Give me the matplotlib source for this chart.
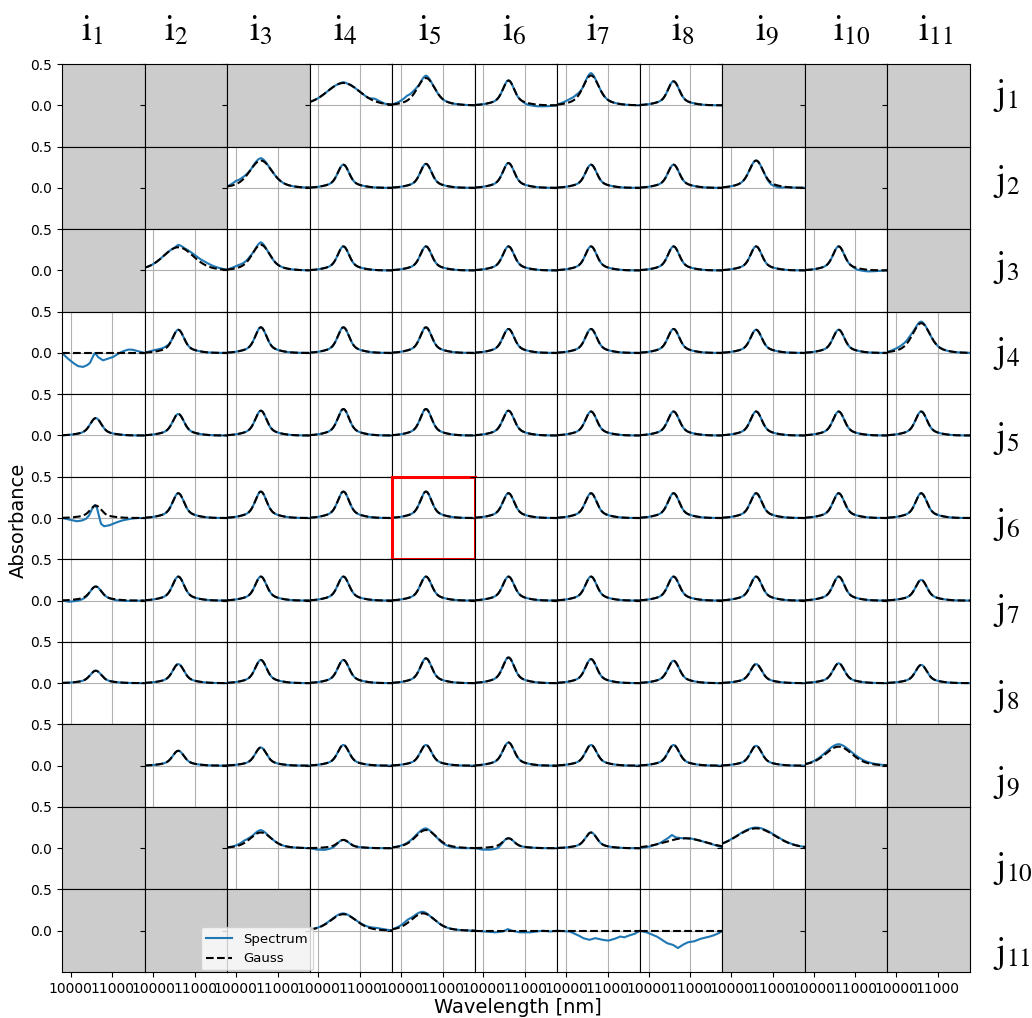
import numpy as np
import matplotlib.pyplot as plt

plt.rcParams['mathtext.fontset'] = 'stix'

nan = np.nan
wl_min, wl_max = 9790, 11770

# Gauss amplitude per pixel: rows j1..j11, columns i1..i11 (nan = no pixel)
amp = [
    [nan, nan, nan, .27, .33, .30, .36, .29, nan, nan, nan],
    [nan, nan, .33, .28, .29, .30, .28, .28, .33, nan, nan],
    [nan, .28, .31, .29, .29, .29, .29, .29, .29, .29, nan],
    [0.0, .28, .31, .31, .31, .29, .29, .29, .28, .28, .36],
    [.21, .26, .30, .32, .32, .30, .29, .29, .29, .29, .29],
    [.15, .30, .32, .32, .32, .30, .30, .30, .30, .30, .30],
    [.17, .29, .29, .29, .29, .29, .29, .29, .29, .29, .25],
    [.15, .23, .28, .28, .30, .31, .29, .27, .23, .24, .22],
    [nan, .18, .22, .25, .25, .28, .25, .25, .24, .23, nan],
    [nan, nan, .19, .10, .22, .12, .19, .12, .24, nan, nan],
    [nan, nan, nan, .20, .21, 0.0, 0.0, 0.0, nan, nan, nan],
]
center_default = 10600
sigma_default = 125
center = {(9, 7): 10870, (10, 4): 10530}
sigma = {(0, 3): 360, (0, 4): 190, (0, 6): 170, (1, 2): 240, (1, 8): 150,
         (2, 1): 330, (2, 2): 190, (3, 10): 190, (8, 9): 290, (9, 2): 230,
         (9, 4): 230, (9, 7): 450, (9, 8): 430, (10, 3): 280, (10, 4): 260}

# Spectrum minus Gauss (small deviations), knots in nm
resid = {
    (0, 3): ([9790, 10500, 10600, 10700, 11200, 11350, 11450, 11600, 11770], [0, 0, .01, 0, 0, .03, .02, 0, 0]),
    (0, 4): ([9790, 9950, 10100, 10150, 10300, 10450, 10600, 10750, 11770], [0, .02, .05, .06, .04, 0, .03, 0, 0]),
    (0, 5): ([9790, 10900, 11050, 11300, 11600, 11770], [0, 0, -.02, -.02, -.01, 0]),
    (0, 6): ([9790, 9950, 10100, 10250, 10400, 10600, 10750, 11770], [0, .02, .04, .04, 0, .03, 0, 0]),
    (1, 2): ([9790, 9900, 10000, 10150, 10350, 10600, 10800, 11770], [0, .02, .04, .03, 0, .03, 0, 0]),
    (1, 8): ([9790, 10800, 10950, 11150, 11350, 11770], [0, 0, -.02, -.02, 0, 0]),
    (2, 1): ([9790, 10500, 10600, 10750, 11000, 11250, 11500, 11770], [0, 0, .03, .01, .03, .04, .02, 0]),
    (2, 2): ([9790, 9950, 10100, 10300, 10450, 10600, 10750, 11770], [0, .02, .03, .02, 0, .03, 0, 0]),
    (2, 9): ([9790, 10900, 11050, 11300, 11500, 11770], [0, 0, -.02, -.02, -.01, 0]),
    (3, 1): ([9790, 10000, 10300, 10450, 11770], [0, .02, .02, 0, 0]),
    (3, 10): ([9790, 9950, 10150, 10300, 10450, 10600, 10750, 11770], [0, .02, .04, .04, .01, .02, 0, 0]),
    (6, 0): ([9790, 9950, 10150, 10350, 10500, 10900, 11100, 11770], [0, -.02, -.02, -.01, 0, 0, -.01, 0]),
    (8, 9): ([9790, 10600, 10800, 11100, 11400, 11770], [0, .03, .02, .02, .01, 0]),
    (9, 2): ([9790, 10000, 10200, 10400, 10600, 10800, 11770], [0, .01, .03, .01, .03, 0, 0]),
    (9, 3): ([9790, 9950, 10150, 10350, 10500, 11770], [0, -.02, -.03, -.02, 0, 0]),
    (9, 4): ([9790, 10600, 10750, 11000, 11300, 11770], [0, .02, 0, -.01, -.01, 0]),
    (9, 5): ([9790, 9950, 10150, 10350, 10500, 11770], [0, -.02, -.03, -.03, 0, 0]),
    (9, 8): ([9790, 10600, 11770], [0, .01, 0]),
    (10, 3): ([9790, 10600, 10800, 11200, 11400, 11600, 11770], [0, .01, 0, .01, .02, .01, 0]),
    (10, 4): ([9790, 10000, 10150, 10300, 10530, 10700, 11770], [0, .02, .04, .02, .02, 0, 0]),
}

# Measured spectrum where it departs strongly from the fit, knots in nm
spec = {
    (3, 0): ([9790, 9910, 10054, 10174, 10294, 10390, 10462, 10534, 10582, 10654, 10774, 10894,
              11014, 11134, 11254, 11374, 11470, 11614, 11770],
             [0, -.06, -.12, -.16, -.17, -.15, -.12, -.04, 0, -.05, -.09, -.07,
              -.05, -.01, .02, .04, .04, .02, 0]),
    (5, 0): ([9790, 9980, 10150, 10270, 10366, 10438, 10510, 10582, 10630, 10678, 10726, 10798,
              10918, 11062, 11230, 11422, 11590, 11770],
             [0, -.02, -.04, -.03, -.01, .03, .11, .16, .12, .02, -.07, -.10,
              -.09, -.06, -.03, -.01, 0, 0]),
    (9, 7): ([9790, 10030, 10270, 10462, 10558, 10654, 10798, 10990, 11182, 11374, 11566, 11770],
             [0, .02, .06, .12, .16, .13, .12, .12, .10, .07, .04, .01]),
    (10, 5): ([9790, 10030, 10270, 10462, 10582, 10678, 10870, 11110, 11278, 11422, 11590, 11770],
              [0, -.01, -.02, -.01, .02, 0, -.02, -.02, -.01, 0, -.01, 0]),
    (10, 6): ([9790, 10090, 10270, 10414, 10558, 10702, 10870, 11014, 11158, 11302, 11398, 11494, 11638, 11770],
              [0, -.01, -.05, -.09, -.11, -.09, -.11, -.12, -.10, -.07, -.08, -.06, -.04, 0]),
    (10, 7): ([9790, 9958, 10198, 10438, 10582, 10702, 10822, 10942, 11086, 11230, 11398, 11542, 11686, 11770],
              [0, -.02, -.07, -.15, -.17, -.21, -.17, -.14, -.13, -.10, -.08, -.06, -.03, 0]),
}

marked = (5, 4)


def gauss(x, a, c, s):
    w = s + 200
    return a * (0.75 * np.exp(-(x - c) ** 2 / (2 * s ** 2)) + 0.25 * np.exp(-(x - c) ** 2 / (2 * w ** 2)))


n = len(amp)
x = np.linspace(wl_min, wl_max, 400)
W, H = 1032, 1018

fig, axes = plt.subplots(n, n, figsize=(W / 100, H / 100), dpi=100, sharex=True, sharey=True)
fig.subplots_adjust(left=62 / W, right=970 / W, top=1 - 64 / H, bottom=1 - 972 / H,
                    wspace=0, hspace=0)

for r in range(n):
    for c in range(n):
        ax = axes[r, c]
        a = amp[r][c]
        if np.isnan(a):
            ax.set_facecolor('0.8')
        else:
            g = gauss(x, a, center.get((r, c), center_default), sigma.get((r, c), sigma_default))
            if (r, c) in spec:
                kx, ky = spec[(r, c)]
                s = np.interp(x, kx, ky)
            elif (r, c) in resid:
                kx, ky = resid[(r, c)]
                s = g + np.interp(x, kx, ky)
            else:
                s = g
            ax.plot(x, s, color='#1f77b4', lw=1.5, label='Spectrum')
            ax.plot(x, g, 'k--', lw=1.5, label='Gauss')
            ax.grid(True)
        if (r, c) == marked:
            for sp in ax.spines.values():
                sp.set_color('red')
                sp.set_linewidth(2.2)
                sp.set_zorder(10)
        ax.tick_params(labelsize=10)

axes[0, 0].set_xlim(wl_min, wl_max)
axes[0, 0].set_ylim(-0.5, 0.5)
axes[0, 0].set_xticks([10000, 11000])
axes[0, 0].set_yticks([0.0, 0.5])

# column / row labels, placed on their own spacing as in the original figure
for k in range(n):
    fig.text((92 + 84.4 * k) / W, 1 - 40 / H, r'$\mathrm{i}_{%d}$' % (k + 1),
             ha='center', va='baseline', fontsize=26)
    fig.text(993 / W, 1 - (95.5 + 85.85 * k) / H, r'$\mathrm{j}_{%d}$' % (k + 1),
             ha='left', va='center', fontsize=26)

h, l = axes[5, 5].get_legend_handles_labels()
fig.legend(h, l, loc='lower left', bbox_to_anchor=(194 / W, 1 - 977 / H), fontsize=9.5)

fig.text(18 / W, 1 - 520 / H, 'Absorbance', rotation=90, ha='center', va='center', fontsize=14)
fig.text(518 / W, 1 - 1013 / H, 'Wavelength [nm]', ha='center', va='baseline', fontsize=14)

fig.savefig('out.png', dpi=100)
